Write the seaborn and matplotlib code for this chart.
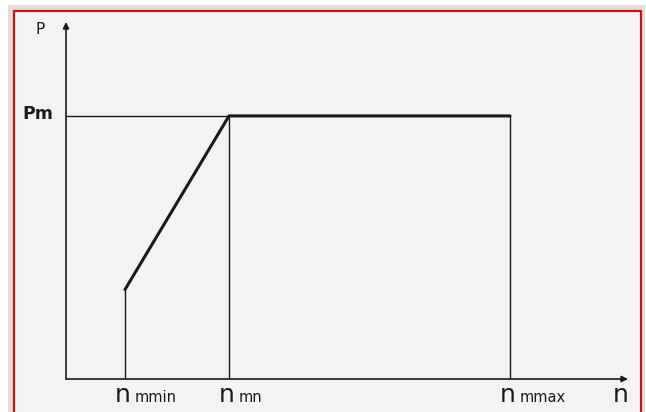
import numpy as np
import pandas as pd
import matplotlib
matplotlib.use('Agg')
import matplotlib.pyplot as plt
import seaborn as sns
from matplotlib.patches import Rectangle

# speed (n) and power (P) values
n_points = [0.59, 1.63, 4.44]          # n_mmin, n_mn, n_mmax
p_points = [0.34, 1.0, 1.0]           # P at those speeds (Pm = 1)
n_axis_max = 5.62
p_axis_max = 1.357
p_m = 1.0

n_labels = ['mmin', 'mn', 'mmax']

sns.set_theme(style='white')
plt.rcParams['font.family'] = ['DejaVu Sans']

fig = plt.figure(figsize=(6.46, 4.12), dpi=100)
fig.patch.set_facecolor('white')

# frame with shadow and red border
fig.patches.append(Rectangle((8 / 646, -0.05), 637 / 646, 1 - 5 / 412 + 0.05,
                             transform=fig.transFigure, facecolor='#dedede',
                             edgecolor='none', zorder=-3))
fig.patches.append(Rectangle((14 / 646, -0.05), 627 / 646, 1 - 11 / 412 + 0.05,
                             transform=fig.transFigure, facecolor='#f3f3f3',
                             edgecolor='#cc1111', linewidth=1.6, zorder=-2))

ax = fig.add_axes([66 / 646, 33 / 412, 562 / 646, 357 / 412])
ax.set_facecolor('none')
ax.set_xlim(0, n_axis_max)
ax.set_ylim(0, p_axis_max)
for s in ax.spines.values():
    s.set_visible(False)
ax.set_xticks([])
ax.set_yticks([])

line_col = '#1a1a1a'

# axes with arrows
ax.annotate('', xy=(n_axis_max, 0), xytext=(0, 0),
            arrowprops=dict(arrowstyle='-|>', color=line_col, lw=1.2,
                            mutation_scale=9, shrinkA=0, shrinkB=0),
            annotation_clip=False)
ax.annotate('', xy=(0, p_axis_max), xytext=(0, 0),
            arrowprops=dict(arrowstyle='-|>', color=line_col, lw=1.2,
                            mutation_scale=9, shrinkA=0, shrinkB=0),
            annotation_clip=False)

# thin guide lines
ax.hlines(p_m, 0, n_points[1], color=line_col, lw=1.0)
ax.vlines(n_points, 0, p_points, color=line_col, lw=1.0)

# power curve
df = pd.DataFrame({'n': n_points, 'P': p_points})
sns.lineplot(data=df, x='n', y='P', ax=ax, color=line_col, lw=2.2,
             sort=False, legend=False)
ax.set_xlabel('')
ax.set_ylabel('')

# labels
ax.text(-0.26, 1.33, 'P', fontsize=11, ha='center', va='center',
        color=line_col)
ax.text(-0.13, p_m + 0.008, 'Pm', fontsize=12.5, ha='right', va='center',
        color=line_col, fontweight='bold')
ylab = -0.062
for xv, lab in zip(n_points, n_labels):
    ax.text(xv - 0.02, ylab, 'n', fontsize=18, ha='center', va='center',
            color=line_col)
    ax.text(xv + 0.10, ylab - 0.008, lab, fontsize=10.5, ha='left',
            va='center', color=line_col)
ax.text(n_axis_max - 0.07, ylab, 'n', fontsize=18, ha='center', va='center',
        color=line_col)

fig.savefig('out.png', dpi=100)
